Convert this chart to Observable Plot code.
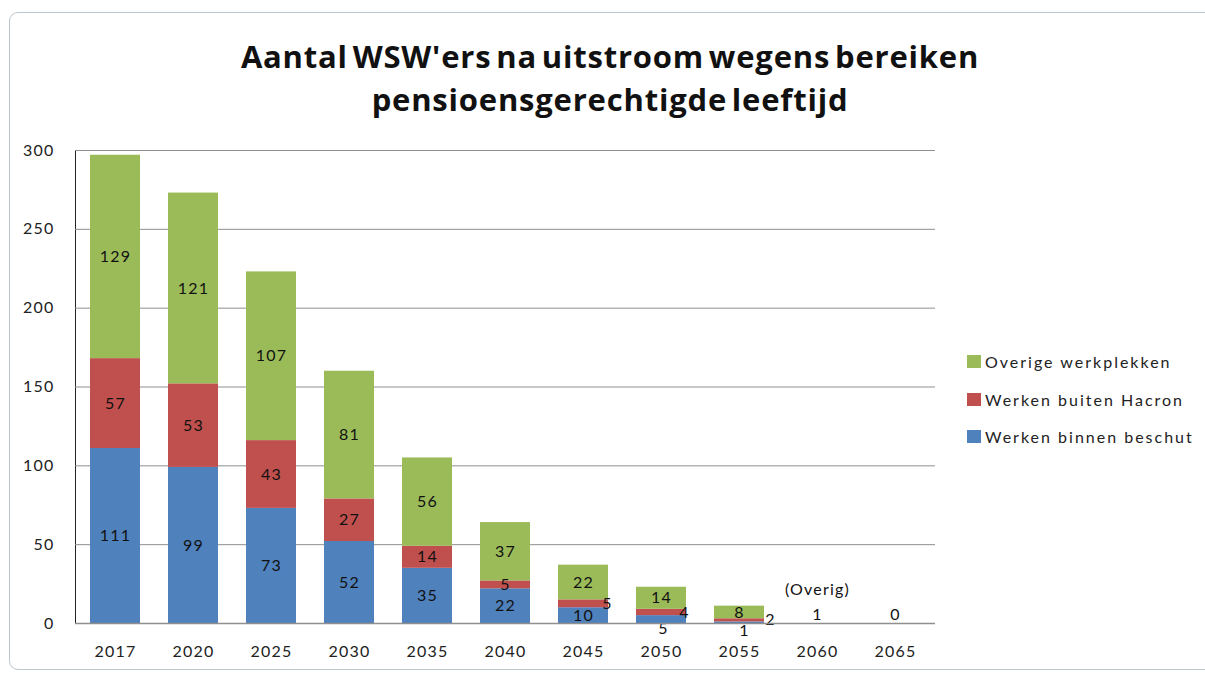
<!DOCTYPE html>
<html>
<head>
<meta charset="utf-8">
<script src="https://cdn.jsdelivr.net/npm/d3@7"></script>
<script src="https://cdn.jsdelivr.net/npm/@observablehq/plot@0.6"></script>
<style>
  html, body { margin: 0; padding: 0; background: #fff; }
  #wrap { position: relative; width: 1205px; height: 675px; overflow: hidden; font-family: Lato, "Open Sans", sans-serif; }
  #frame { position: absolute; left: 9px; top: 12px; width: 1210px; height: 658px; border: 1.5px solid #bcc6cd; border-radius: 9px; box-sizing: border-box; }
  #title { position: absolute; left: 0; top: 35px; width: 1220px; text-align: center; font-family: "Open Sans", Lato, sans-serif; font-weight: bold; font-size: 31px; line-height: 43px; color: #111; letter-spacing: 0.8px; word-spacing: -4px; }
  #chart { position: absolute; left: 0; top: 0; }
  #legend { position: absolute; left: 967px; top: 352px; font-size: 16px; color: #222; letter-spacing: 2px; }
  .row { display: flex; align-items: center; height: 19px; margin-bottom: 18.5px; }
  .sw { width: 14px; height: 13px; margin-right: 4px; }
</style>
</head>
<body>
<div id="wrap">
  <div id="frame"></div>
  <div id="title">Aantal WSW'ers na uitstroom wegens bereiken<br>pensioensgerechtigde leeftijd</div>
  <div id="chart"></div>
  <div id="legend"></div>
</div>
<script>
// ---- data ----
const years = ["2017", "2020", "2025", "2030", "2035", "2040", "2045", "2050", "2055", "2060", "2065"];
const seriesNames = ["Werken binnen beschut", "Werken buiten Hacron", "Overige werkplekken"];
const binnenBeschut = [111, 99, 73, 52, 35, 22, 10, 5, 1, 0, 0];
const buitenHacron  = [57, 53, 43, 27, 14, 5, 5, 4, 2, 0, 0];
const overigeWerk   = [129, 121, 107, 81, 56, 37, 22, 14, 8, 0, 0];
const overigRestYears = ["2060", "2065"];
const overigRestValues = [1, 0];
const overigRestHeader = "(Overig)";
const yTicks = [0, 50, 100, 150, 200, 250, 300];
const seriesColors = ["#4F81BD", "#C0504D", "#9BBB59"];

// label placement tweaks (style only)
const labelShift = {
  "2045|Werken buiten Hacron": [24, 0],
  "2050|Werken buiten Hacron": [23, 0],
  "2050|Werken binnen beschut": [2, 9],
  "2055|Werken binnen beschut": [5, 8],
  "2055|Werken buiten Hacron": [31, 0]
};

// ---- build table ----
const seriesValues = [binnenBeschut, buitenHacron, overigeWerk];
const rows = [];
years.forEach((yr, i) => {
  let cum = 0;
  seriesNames.forEach((s, k) => {
    const v = seriesValues[k][i];
    rows.push({year: yr, series: s, value: v, mid: cum + v / 2});
    cum += v;
  });
});
const labelRows = rows.filter(d => d.value > 0);
const shiftGroups = {};
labelRows.forEach(d => {
  const sh = labelShift[d.year + "|" + d.series] || [0, 0];
  const key = sh.join(",");
  (shiftGroups[key] = shiftGroups[key] || []).push(d);
});
const restRows = overigRestYears.map((y, i) => ({year: y, value: overigRestValues[i]}));

const textMarks = Object.entries(shiftGroups).map(([key, arr]) => {
  const [dx, dy] = key.split(",").map(Number);
  return Plot.text(arr, {x: "year", y: "mid", text: d => String(d.value), dx, dy, fill: "#111", fontSize: 16});
});

const chart = Plot.plot({
  width: 1205,
  height: 675,
  marginTop: 150,
  marginBottom: 52,
  marginLeft: 75,
  marginRight: 270,
  style: {fontFamily: "Lato, 'Open Sans', sans-serif", fontSize: "16px", color: "#222", background: "transparent", letterSpacing: "1.2px"},
  x: {domain: years, paddingInner: 0.36, paddingOuter: 0.17, align: 0.5, label: null, tickSize: 0, tickPadding: 22},
  y: {domain: [0, 300], ticks: yTicks, label: null, tickSize: 0, tickPadding: 21, line: true},
  color: {domain: seriesNames, range: seriesColors},
  marks: [
    Plot.ruleY(yTicks, {stroke: "#8f8f8f", strokeWidth: 1}),
    Plot.barY(rows, {x: "year", y: "value", fill: "series", order: seriesNames}),
    ...textMarks,
    Plot.text(restRows, {x: "year", y: 0, text: d => String(d.value), dy: -9, fill: "#111", fontSize: 16}),
    Plot.text(restRows.slice(0, 1), {x: "year", y: 0, text: () => overigRestHeader, dy: -34, fill: "#111", fontSize: 16}),
    Plot.ruleY([0], {stroke: "#8f8f8f", strokeWidth: 1.5})
  ]
});
document.getElementById("chart").appendChild(chart);

// legend
const legend = document.getElementById("legend");
[2, 1, 0].forEach(k => {
  const row = document.createElement("div");
  row.className = "row";
  const sw = document.createElement("div");
  sw.className = "sw";
  sw.style.background = seriesColors[k];
  const t = document.createElement("span");
  t.textContent = seriesNames[k];
  row.appendChild(sw);
  row.appendChild(t);
  legend.appendChild(row);
});
</script>
</body>
</html>
